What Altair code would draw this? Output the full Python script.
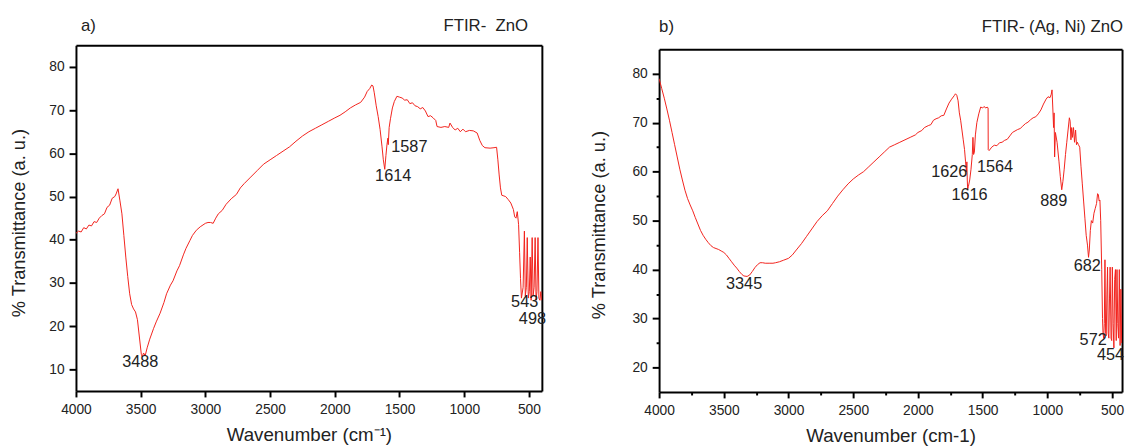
import altair as alt
import pandas as pd

# ---------------- data: panel a) FTIR - ZnO ----------------
wn_a = [4000, 3980, 3960, 3940, 3920, 3900, 3880, 3860, 3840, 3820, 3800, 3780, 3760, 3740,
        3720, 3700, 3690, 3675, 3660, 3645, 3630, 3615, 3600, 3585, 3570, 3555, 3540, 3525,
        3510, 3495, 3488, 3478, 3465, 3450, 3430, 3400, 3380, 3350, 3320, 3300, 3270, 3250,
        3220, 3200, 3170, 3150, 3120, 3100, 3070, 3040, 3000, 2980, 2960, 2940, 2920, 2900,
        2870, 2840, 2800, 2760, 2730, 2700, 2650, 2600, 2550, 2500, 2450, 2400, 2350, 2300,
        2250, 2200, 2150, 2100, 2050, 2000, 1960, 1920, 1880, 1840, 1800, 1770, 1750, 1730,
        1715, 1705, 1695, 1680, 1665, 1650, 1635, 1625, 1614, 1605, 1597, 1590, 1587, 1580,
        1570, 1555, 1540, 1520, 1500, 1480, 1460, 1440, 1420, 1400, 1380, 1360, 1340, 1320,
        1300, 1280, 1260, 1240, 1220, 1210, 1180, 1150, 1120, 1110, 1090, 1070, 1050, 1030,
        1010, 990, 960, 930, 900, 880, 860, 840, 800, 770, 750, 740, 730, 720, 710, 700,
        680, 660, 640, 620, 610, 600, 590, 580, 572, 565, 558, 545, 535, 528, 520, 513,
        505, 497, 490, 483, 475, 468, 460, 452, 445, 438, 430, 423, 415, 408, 402]
t_a = [41.5, 42.0, 41.8, 42.8, 42.5, 43.4, 43.2, 44.2, 44.0, 45.0, 45.6, 46.0, 47.5, 48.0,
       49.6, 50.0, 50.6, 51.8, 49.0, 46.0, 41.0, 36.0, 31.5, 27.5, 25.0, 24.0, 23.3, 21.5,
       17.5, 13.5, 12.9, 13.8, 13.2, 15.0, 17.0, 19.5, 21.0, 23.0, 25.5, 27.5, 29.5, 30.5,
       32.8, 34.0, 36.5, 38.0, 39.8, 41.0, 42.2, 43.0, 43.8, 44.0, 44.0, 43.8, 45.0, 46.0,
       46.8, 48.2, 49.5, 50.5, 52.0, 53.0, 54.5, 56.0, 57.5, 58.5, 59.5, 60.5, 61.5, 62.8,
       64.0, 65.0, 65.8, 66.6, 67.4, 68.2, 68.8, 69.6, 70.5, 71.2, 71.8, 73.0, 74.3, 75.0,
       75.8, 75.6, 74.0, 71.0, 68.5, 65.5, 61.5, 58.5, 56.3, 59.5, 62.0, 63.5, 62.0, 66.0,
       68.0, 70.5, 72.0, 73.2, 73.0, 72.8, 72.3, 72.4, 71.5, 71.7, 71.0, 70.8, 70.3, 70.6,
       69.8, 68.5, 68.7, 68.2, 67.6, 66.2, 66.0, 66.2, 66.0, 67.0, 66.0, 65.4, 65.8, 65.0,
       65.6, 65.0, 65.3, 65.2, 64.7, 63.0, 61.8, 61.3, 61.2, 61.3, 61.4, 58.5, 55.0, 52.0,
       50.3, 50.2, 50.0, 49.3, 48.5, 47.0, 45.3, 45.0, 46.5, 43.5, 37.0, 31.0, 26.5, 29.0,
       42.0, 27.0, 29.0, 40.5, 26.5, 28.0, 36.0, 26.0, 40.5, 27.0, 29.0, 40.5, 26.0, 28.0,
       40.5, 26.5, 26.0, 28.0, 26.0]

lab_a_text = ["3488", "1614", "1587", "543", "498"]
lab_a_x = [3503, 1549, 1424, 533, 473]
lab_a_y = [11.8, 54.8, 61.4, 25.6, 21.7]

# ---------------- data: panel b) FTIR - (Ag, Ni) ZnO ----------------
wn_b = [4000, 3980, 3960, 3940, 3920, 3900, 3880, 3860, 3840, 3820, 3800, 3780, 3760, 3740,
        3720, 3700, 3680, 3660, 3640, 3620, 3600, 3580, 3560, 3540, 3520, 3500, 3480, 3460,
        3440, 3420, 3400, 3380, 3360, 3345, 3320, 3300, 3280, 3260, 3240, 3220, 3200, 3180,
        3150, 3120, 3100, 3070, 3040, 3000, 2970, 2940, 2900, 2860, 2820, 2780, 2740, 2700,
        2660, 2620, 2580, 2540, 2500, 2460, 2420, 2380, 2340, 2300, 2260, 2220, 2180, 2140,
        2100, 2060, 2020, 2000, 1970, 1950, 1920, 1900, 1880, 1860, 1840, 1820, 1800, 1780,
        1760, 1740, 1720, 1710, 1700, 1690, 1680, 1670, 1660, 1650, 1640, 1632, 1626, 1622,
        1619, 1616, 1610, 1600, 1590, 1580, 1575, 1570, 1564, 1556, 1545, 1530, 1515, 1500,
        1490, 1475, 1465, 1458, 1457, 1450, 1430, 1410, 1390, 1370, 1350, 1330, 1310, 1290,
        1270, 1250, 1230, 1210, 1190, 1170, 1150, 1130, 1110, 1090, 1070, 1050, 1030, 1010,
        995, 980, 970, 964, 958, 952, 948, 944, 938, 925, 910, 900, 889, 880, 870, 860,
        850, 840, 830, 824, 818, 812, 806, 798, 790, 782, 775, 768, 760, 750, 740, 730,
        720, 710, 700, 690, 682, 676, 668, 660, 650, 640, 630, 620, 612, 606, 600, 594,
        588, 580, 574, 570, 565, 560, 555, 550, 545, 540, 535, 530, 525, 520, 515, 508,
        503, 498, 492, 486, 480, 474, 468, 462, 456, 450, 444, 438, 432, 426]
t_b = [79.0, 77.0, 75.0, 72.8, 70.5, 68.0, 65.5, 63.0, 60.5, 58.3, 56.2, 54.5, 53.2, 52.0,
       50.6, 49.3, 48.0, 47.0, 46.2, 45.5, 44.9, 44.5, 44.3, 44.1, 43.8, 43.5, 43.0, 42.3,
       41.6, 40.9, 40.3, 39.6, 39.0, 38.7, 38.6, 38.9, 39.6, 40.4, 41.0, 41.4, 41.4, 41.3,
       41.3, 41.3, 41.4, 41.6, 41.9, 42.3, 43.0, 44.0, 45.3, 46.8, 48.3, 49.8, 51.0, 52.0,
       53.5, 55.0, 56.3, 57.5, 58.5, 59.3, 60.0, 61.0, 62.0, 63.0, 64.0, 65.0, 65.5, 66.0,
       66.5, 67.0, 67.5, 68.0, 68.4, 69.0, 69.4, 69.6, 70.5, 70.8, 71.0, 71.4, 71.5, 72.8,
       74.0, 74.8, 75.5, 75.9, 75.6, 74.5, 72.0, 70.5, 68.5, 66.5, 64.5, 62.0, 60.0, 62.0,
       58.5, 56.3, 57.0, 58.3, 60.5, 63.5, 67.0, 63.5, 64.0, 67.5, 70.0, 71.8, 73.2, 73.0,
       73.3, 73.0, 73.2, 73.0, 64.5, 64.3, 65.0, 65.4, 65.3, 65.9, 66.0, 66.4, 66.6, 67.3,
       68.0, 68.3, 68.6, 68.8, 69.3, 69.8, 70.1, 70.6, 71.0, 71.2, 71.8, 72.6, 73.8, 74.8,
       75.3, 75.1, 75.8, 76.7, 73.0, 69.0, 72.0, 63.0, 68.0, 66.0, 62.0, 59.0, 56.3, 58.0,
       60.5, 63.5, 66.0, 68.5, 71.0, 70.3, 66.5, 69.0, 67.0, 69.0, 66.0, 68.5, 65.5, 66.0,
       65.5, 65.0, 61.0, 57.5, 54.0, 50.5, 47.0, 45.0, 42.5, 44.0, 48.0, 50.0, 49.5, 51.5,
       52.5, 53.5, 55.5, 55.3, 54.0, 54.2, 50.0, 40.0, 30.0, 27.0, 26.0, 29.0, 42.0, 27.0,
       26.5, 35.0, 40.5, 27.0, 26.0, 34.0, 40.5, 26.0, 25.5, 40.5, 29.0, 24.0, 38.0, 40.0,
       25.5, 40.0, 29.0, 26.0, 40.0, 24.5, 36.0, 25.0]

lab_b_text = ["3345", "1626", "1616", "1564", "889", "682", "572", "454"]
lab_b_x = [3343, 1758, 1601, 1404, 950, 692, 646, 512]
lab_b_y = [37.0, 60.0, 55.2, 60.9, 54.0, 40.7, 25.6, 22.5]

x_major = [4000, 3500, 3000, 2500, 2000, 1500, 1000, 500]
x_minor = [3750, 3250, 2750, 2250, 1750, 1250, 750]
y_major_a = [10, 20, 30, 40, 50, 60, 70, 80]
y_major_b = [20, 30, 40, 50, 60, 70, 80]
y_minor_b = [25, 35, 45, 55, 65, 75]

FONT = "Liberation Sans"
RED = "#f2221b"
INK = "#222222"


def frame_axis(orient, values=None, tick=0):
    return alt.Axis(orient=orient, values=values if values is not None else [],
                    labels=False, grid=False, title=None,
                    domain=(values is None), domainWidth=2, domainColor="black",
                    ticks=(values is not None), tickSize=tick, tickWidth=2, tickColor="black")


def panel(wn, t, xdom, ydom, w, h, ltext, lx, ly, tag, ttl, xtitle, ymaj,
          ttl_x, tag_x, head_y, ytitle_y, xmin=None, ymin=None, ytp=21):
    df = pd.DataFrame({"w": wn, "t": t})
    xs = alt.Scale(domain=xdom, reverse=True, nice=False, zero=False)
    ys = alt.Scale(domain=ydom, nice=False, zero=False)
    xaxis = alt.Axis(values=x_major, format="d", title=xtitle, orient="bottom",
                     grid=False, domain=True, domainWidth=2, domainColor="black",
                     tickSize=6, tickWidth=2, tickColor="black",
                     labelFont=FONT, labelFontSize=14, labelColor=INK, labelPadding=6,
                     labelFlush=False, labelOverlap=False,
                     titleFont=FONT, titleFontSize=19, titleFontWeight="normal",
                     titleColor=INK, titlePadding=9)
    yaxis = alt.Axis(values=ymaj, format="d", title="% Transmittance (a. u.)", orient="left",
                     grid=False, domain=True, domainWidth=2, domainColor="black",
                     tickSize=7, tickWidth=2, tickColor="black",
                     labelFont=FONT, labelFontSize=14, labelColor=INK, labelPadding=5,
                     labelFlush=False, labelOverlap=False,
                     titleFont=FONT, titleFontSize=18.5, titleFontWeight="normal",
                     titleColor=INK, titlePadding=ytp, titleY=ytitle_y)
    line = alt.Chart(df).mark_line(color=RED, strokeWidth=1, clip=True).encode(
        x=alt.X("w:Q", scale=xs, axis=xaxis),
        y=alt.Y("t:Q", scale=ys, axis=yaxis),
    )
    # frame: top and right borders (domain lines only)
    fdf = pd.DataFrame({"w": [xdom[1]], "t": [ydom[1]]})
    frame = alt.Chart(fdf).mark_point(opacity=0).encode(
        x=alt.X("w:Q", scale=xs, axis=frame_axis("top")),
        y=alt.Y("t:Q", scale=ys, axis=frame_axis("right")),
    )
    ldf = pd.DataFrame({"lx": lx, "ly": ly, "txt": ltext})
    labels = alt.Chart(ldf).mark_text(font=FONT, fontSize=16.5, color=INK,
                                      align="center", baseline="middle").encode(
        x=alt.X("lx:Q", scale=xs, axis=None),
        y=alt.Y("ly:Q", scale=ys, axis=None),
        text="txt:N",
    )
    tdf = pd.DataFrame({"tag": [tag], "ttl": [ttl]})
    tag_mark = alt.Chart(tdf).mark_text(font=FONT, fontSize=17, color=INK, align="left",
                                        baseline="middle").encode(
        x=alt.value(tag_x), y=alt.value(head_y), text="tag:N")
    ttl_mark = alt.Chart(tdf).mark_text(font=FONT, fontSize=17, color=INK, align="right",
                                        baseline="middle").encode(
        x=alt.value(ttl_x), y=alt.value(head_y), text="ttl:N")
    layers = [line, frame, labels, tag_mark, ttl_mark]
    if xmin is not None:
        minor = alt.Chart(fdf).mark_point(opacity=0).encode(
            x=alt.X("w:Q", scale=xs, axis=frame_axis("bottom", xmin, 3)),
            y=alt.Y("t:Q", scale=ys, axis=frame_axis("left", ymin, 3)),
        )
        layers.append(minor)
    ch = alt.layer(*layers).resolve_axis(x="independent", y="independent").properties(
        width=w, height=h)
    return ch


left = panel(wn_a, t_a, [400, 4000], [5, 85], 473, 351, lab_a_text, lab_a_x, lab_a_y,
             "a)", "FTIR-\u00a0 ZnO", "Wavenumber (cm⁻¹)", y_major_a,
             ttl_x=459, tag_x=5, head_y=-20, ytitle_y=180, ytp=21)
right = panel(wn_b, t_b, [423, 4000], [15, 85], 470, 348, lab_b_text, lab_b_x, lab_b_y,
              "b)", "FTIR- (Ag, Ni) ZnO", "Wavenumber (cm-1)", y_major_b,
              ttl_x=471, tag_x=0, head_y=-22, ytitle_y=178,
              xmin=x_minor, ymin=y_minor_b, ytp=24)

spacer = alt.Chart(pd.DataFrame({"s": [0]})).mark_point(opacity=0).encode(
    x=alt.value(0), y=alt.value(0)).properties(width=470, height=1)

right_col = alt.VConcatChart(vconcat=[spacer, right], spacing=3, bounds="flush")

chart = alt.HConcatChart(hconcat=[left, right_col], spacing=119, bounds="flush").properties(
    padding={"left": 1, "top": 5.5, "right": 0, "bottom": 0},
    background="white",
).configure_view(stroke=None)

chart.save("out.html", embed_options={"renderer": "svg", "actions": False})
